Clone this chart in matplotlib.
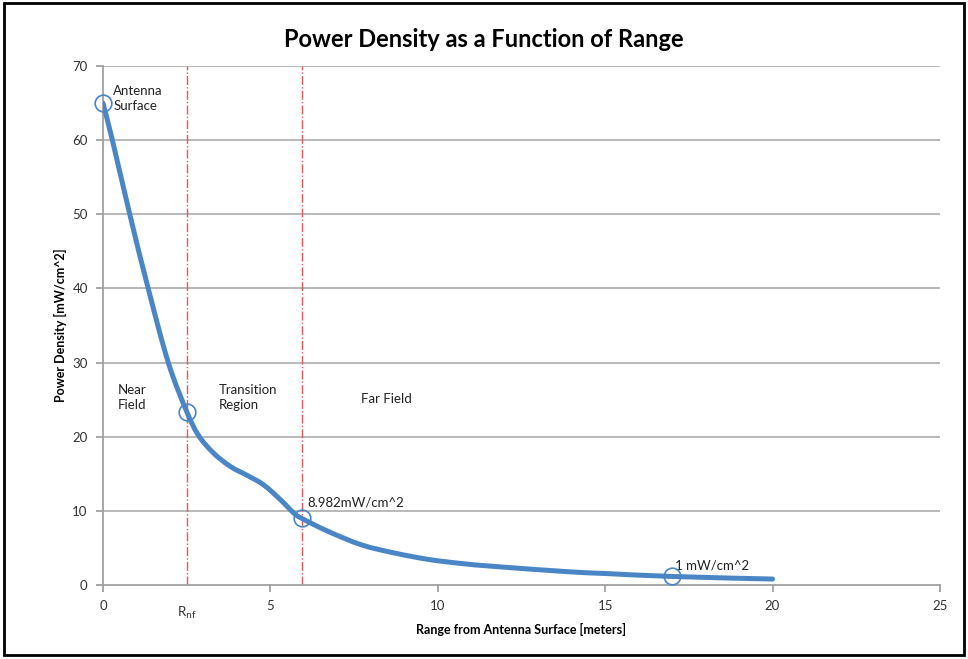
import numpy as np
import matplotlib
matplotlib.use("Agg")
from matplotlib import pyplot as plt
from matplotlib.patches import Rectangle, PathPatch
from matplotlib.path import Path

plt.rcParams['font.family'] = ['Lato', 'DejaVu Sans']

# curve (range in m, power density in mW/cm^2)
rng = [0, 0.28, 0.8, 1.35, 1.95, 2.5, 2.85, 3.3, 3.8, 4.3, 4.8,
       5.3, 5.7, 5.94, 6.74, 7.73, 8.72, 9.72, 10.7, 11.7, 13.85, 15, 17, 20]
pden = [65, 60, 50, 40, 30, 23.4, 20.2, 17.8, 16.0, 14.8, 13.5,
        11.5, 9.7, 8.98, 7.2, 5.4, 4.3, 3.45, 2.9, 2.5, 1.8, 1.55, 1.15, 0.8]

# marked points
mark_x = [0, 2.5, 5.94, 17]
mark_y = [65, 23.4, 8.982, 1.15]

# region boundaries
rnf = 2.5
rff = 5.94

xticks = [0, 5, 10, 15, 20, 25]
xlabels = ['0', '5', '10', '15', '20', '25']
yticks = [0, 10, 20, 30, 40, 50, 60, 70]

fig = plt.figure(figsize=(9.68, 6.59), dpi=100)
ax = fig.add_axes([0.1064, 0.1123, 0.8646, 0.7875])

for yv in yticks[1:]:
    ax.axhline(yv, color='#b3b3b3', lw=1.3, zorder=1)

ax.axvline(rnf, color='#e05a5a', lw=1.0, ls='-.', zorder=2)
ax.axvline(rff, color='#e05a5a', lw=1.0, ls='-.', zorder=2)

# smoothed line like a spreadsheet "smooth line" (bezier through the points)
pts = np.column_stack([rng, pden])
verts = [pts[0]]
codes = [Path.MOVETO]
n = len(pts)
for i in range(n - 1):
    p0 = pts[max(i - 1, 0)]
    p1 = pts[i]
    p2 = pts[i + 1]
    p3 = pts[min(i + 2, n - 1)]
    verts += [p1 + (p2 - p0) / 6, p2 - (p3 - p1) / 6, p2]
    codes += [Path.CURVE4] * 3
ax.add_patch(PathPatch(Path(verts, codes), fill=False, edgecolor='#4a86c5',
                       lw=3.6, capstyle='round', joinstyle='round', zorder=3))

ax.plot(mark_x, mark_y, ls='none', marker='o', ms=12, mfc='none',
        mec='#4a86c5', mew=1.2, zorder=4, clip_on=False)

ax.set_xlim(0, 25)
ax.set_ylim(0, 70)
ax.set_xticks(xticks)
ax.set_xticklabels(xlabels)
ax.set_yticks(yticks)
for s in ['top', 'right']:
    ax.spines[s].set_visible(False)
for s in ['left', 'bottom']:
    ax.spines[s].set_color('#a0a0a0')
    ax.spines[s].set_linewidth(1.3)
ax.tick_params(colors='#a0a0a0', labelcolor='#333333', labelsize=9.5,
               length=5, width=1.3, pad=6)
ax.text(rnf, -2.75, r'R$_{\rm nf}$', ha='center', va='top', fontsize=9.5,
        color='#333333')

ax.set_xlabel('Range from Antenna Surface [meters]', fontsize=9,
              fontweight='bold', labelpad=8)
ax.set_ylabel('Power Density [mW/cm^2]', fontsize=9, fontweight='bold',
              labelpad=4)
fig.suptitle('Power Density as a Function of Range', x=0.5, y=0.957,
             fontsize=17, fontweight='bold')

ax.text(0.3, 65.6, 'Antenna\nSurface', fontsize=9.5, va='center',
        linespacing=1.3, color='#222222')
ax.text(0.45, 25.3, 'Near\nField', fontsize=9.5, va='center',
        linespacing=1.3, color='#222222')
ax.text(3.45, 25.3, 'Transition\nRegion', fontsize=9.5, va='center',
        linespacing=1.3, color='#222222')
ax.text(7.7, 25.1, 'Far Field', fontsize=9.5, va='center', color='#222222')
ax.text(6.1, 11.1, '8.982mW/cm^2', fontsize=9.5, va='center', color='#222222')
ax.text(17.1, 2.6, '1 mW/cm^2', fontsize=9.5, va='center', color='#222222')

fig.patches.append(Rectangle((0.004, 0.006), 0.992, 0.989, transform=fig.transFigure,
                             fill=False, edgecolor='black', lw=2))

fig.savefig('out.png', dpi=100)
